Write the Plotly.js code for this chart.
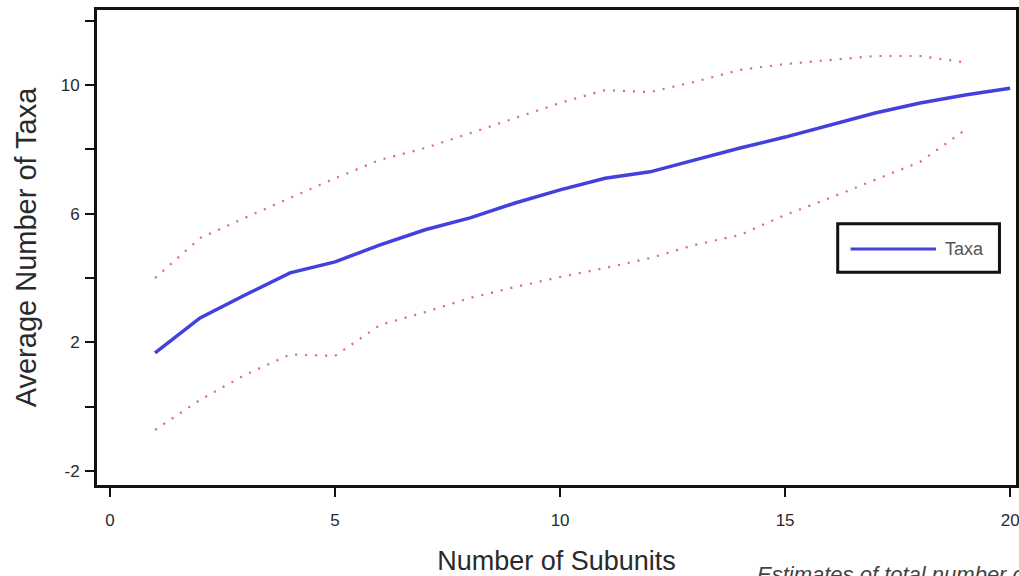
<!DOCTYPE html>
<html>
<head>
<meta charset="utf-8">
<script src="https://cdn.plot.ly/plotly-3.0.1.min.js"></script>
<style>html,body{margin:0;padding:0;background:#fff;}#chart{width:1019px;height:576px;}</style>
</head>
<body>
<div id="chart"></div>
<script>
// Data
const subunits = [1,2,3,4,5,6,7,8,9,10,11,12,13,14,15,16,17,18,19,20];
const taxaMean = [1.67,2.76,3.47,4.16,4.5,5.03,5.5,5.87,6.33,6.74,7.1,7.3,7.67,8.04,8.38,8.76,9.13,9.44,9.69,9.9];
const boundSubunits = [1,2,3,4,5,6,7,8,9,10,11,12,13,14,15,16,17,18,19];
const upperBound = [4.0,5.24,5.87,6.49,7.1,7.67,8.04,8.5,8.97,9.44,9.84,9.78,10.1,10.47,10.65,10.78,10.9,10.9,10.7];
const lowerBound = [-0.72,0.21,0.99,1.62,1.58,2.54,2.94,3.38,3.72,4.03,4.31,4.62,5.03,5.34,5.96,6.49,7.05,7.61,8.6];
const xTickVals = [0,5,10,15,20];
const yTickVals = [-2,0,2,4,6,8,10,12];
const yTickText = ['-2','','2','','6','','10',''];
const legendLabel = 'Taxa';

const red = 'rgb(222,105,105)';
const blue = 'rgb(65,65,222)';

const traces = [
  {x: boundSubunits, y: upperBound, mode: 'lines', line: {color: red, width: 2.2, dash: '2px,8px'}, showlegend: false, hoverinfo: 'skip'},
  {x: boundSubunits, y: lowerBound, mode: 'lines', line: {color: red, width: 2.2, dash: '2px,8px'}, showlegend: false, hoverinfo: 'skip'},
  {x: subunits, y: taxaMean, mode: 'lines', name: legendLabel, line: {color: blue, width: 3.5}, showlegend: false}
];

const fam = 'Liberation Sans, Arial, sans-serif';
const axisFont = {family: fam, size: 17, color: '#2a2a2a'};

const layout = {
  width: 1019, height: 576,
  margin: {l: 97, r: 3, t: 10, b: 91},
  paper_bgcolor: '#fff', plot_bgcolor: '#fff',
  showlegend: false,
  xaxis: {
    range: [-0.29, 20.13], tickvals: xTickVals, ticks: 'outside', ticklen: 9, tickwidth: 2, tickcolor: '#111',
    ticklabelstandoff: 9, ticklabeloverflow: 'allow',
    showline: true, linewidth: 3, linecolor: '#111', mirror: true, showgrid: false, zeroline: false,
    tickfont: axisFont, title: {text: 'Number of Subunits', font: {family: fam, size: 27, color: '#2a2a2a'}, standoff: 22}, automargin: false
  },
  yaxis: {
    range: [-2.435, 12.33], tickvals: yTickVals, ticktext: yTickText, ticks: 'outside', ticklen: 9, tickwidth: 2, tickcolor: '#111',
    ticklabelstandoff: 2,
    showline: true, linewidth: 3, linecolor: '#111', mirror: true, showgrid: false, zeroline: false,
    tickfont: axisFont, title: {text: 'Average Number of Taxa', font: {family: fam, size: 29, color: '#2a2a2a'}, standoff: 16}, automargin: false
  },
  shapes: [
    {type: 'rect', xref: 'paper', yref: 'paper', x0: 0.806, x1: 0.982, y0: 0.448, y1: 0.550, line: {color: '#111', width: 3}, fillcolor: '#fff'},
    {type: 'line', xref: 'paper', yref: 'paper', x0: 0.820, x1: 0.913, y0: 0.497, y1: 0.497, line: {color: blue, width: 3}}
  ],
  annotations: [
    {xref: 'paper', yref: 'paper', x: 0.921, y: 0.497, xanchor: 'left', yanchor: 'middle', text: legendLabel, showarrow: false, font: {family: fam, size: 18, color: '#555'}},
    {xref: 'paper', yref: 'paper', x: 0.716, y: -0.158, xanchor: 'left', yanchor: 'top', text: '<i>Estimates of total number of taxa</i>', showarrow: false, font: {family: fam, size: 22, color: '#444'}}
  ]
};

Plotly.newPlot('chart', traces, layout, {staticPlot: true, displayModeBar: false});
</script>
</body>
</html>
